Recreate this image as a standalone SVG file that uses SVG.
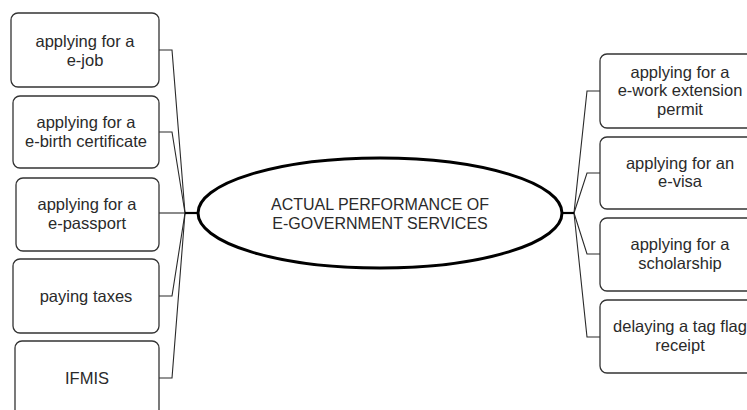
<svg xmlns="http://www.w3.org/2000/svg" width="747" height="410" viewBox="0 0 747 410">
  <style>
    .box { fill: #ffffff; stroke: #333333; stroke-width: 1.3; }
    .lbl { font-family: "Liberation Sans", Arial, sans-serif; font-size: 16.5px; fill: #2a2a2a; text-anchor: middle; }
    .title { font-size: 16px; }
    .wire { fill: none; stroke: #2a2a2a; stroke-width: 1.1; }
    .trunk { fill: none; stroke: #000000; stroke-width: 2.2; }
    .hub { fill: #ffffff; stroke: #000000; stroke-width: 3; }
  </style>
  <rect width="747" height="410" fill="#ffffff"/>

  <!-- connectors -->
  <g id="connectors">
    <path class="wire" d="M159,50 H172 L185,213"/>
    <path class="wire" d="M159,132 H172 L185,213"/>
    <path class="wire" d="M159,213 H185"/>
    <path class="wire" d="M159,296 H172 L185,213"/>
    <path class="wire" d="M159,378 H172 L185,213"/>
    <path class="trunk" d="M185,213 H199"/>
    <path class="wire" d="M600,91 H587 L574,213"/>
    <path class="wire" d="M600,173 H587 L574,213"/>
    <path class="wire" d="M600,254 H587 L574,213"/>
    <path class="wire" d="M600,337 H587 L574,213"/>
    <path class="trunk" d="M561,213 H574"/>
  </g>

  <!-- central topic -->
  <g id="center">
    <ellipse class="hub" cx="380" cy="213" rx="182" ry="55"/>
    <text class="lbl title" x="380" y="210">ACTUAL PERFORMANCE OF</text>
    <text class="lbl title" x="380" y="228.5">E-GOVERNMENT SERVICES</text>
  </g>

  <!-- left branch -->
  <g id="ejob">
    <rect class="box" x="11" y="13" width="148" height="74" rx="7"/>
    <text class="lbl" x="85" y="47">applying for a</text>
    <text class="lbl" x="85" y="66">e-job</text>
  </g>
  <g id="ebirth">
    <rect class="box" x="13" y="96" width="146" height="72" rx="7"/>
    <text class="lbl" x="86" y="128">applying for a</text>
    <text class="lbl" x="86" y="147">e-birth certificate</text>
  </g>
  <g id="epassport">
    <rect class="box" x="16" y="178" width="143" height="73" rx="7"/>
    <text class="lbl" x="87" y="209.5">applying for a</text>
    <text class="lbl" x="87" y="228.5">e-passport</text>
  </g>
  <g id="taxes">
    <rect class="box" x="13" y="259" width="146" height="74" rx="7"/>
    <text class="lbl" x="86" y="301.5">paying taxes</text>
  </g>
  <g id="ifmis">
    <rect class="box" x="15" y="341" width="144" height="76" rx="7"/>
    <text class="lbl" x="87" y="383.5">IFMIS</text>
  </g>

  <!-- right branch -->
  <g id="workpermit">
    <rect class="box" x="600" y="54" width="160" height="74" rx="7"/>
    <text class="lbl" x="680" y="77.5">applying for a</text>
    <text class="lbl" x="680" y="96">e-work extension</text>
    <text class="lbl" x="680" y="114.5">permit</text>
  </g>
  <g id="evisa">
    <rect class="box" x="600" y="137" width="160" height="72" rx="7"/>
    <text class="lbl" x="680" y="168.5">applying for an</text>
    <text class="lbl" x="680" y="187">e-visa</text>
  </g>
  <g id="scholarship">
    <rect class="box" x="600" y="218" width="160" height="73" rx="7"/>
    <text class="lbl" x="680" y="250">applying for a</text>
    <text class="lbl" x="680" y="268.5">scholarship</text>
  </g>
  <g id="tagflag">
    <rect class="box" x="600" y="300" width="160" height="73" rx="7"/>
    <text class="lbl" x="680" y="332">delaying a tag flag</text>
    <text class="lbl" x="680" y="350.5">receipt</text>
  </g>
</svg>
